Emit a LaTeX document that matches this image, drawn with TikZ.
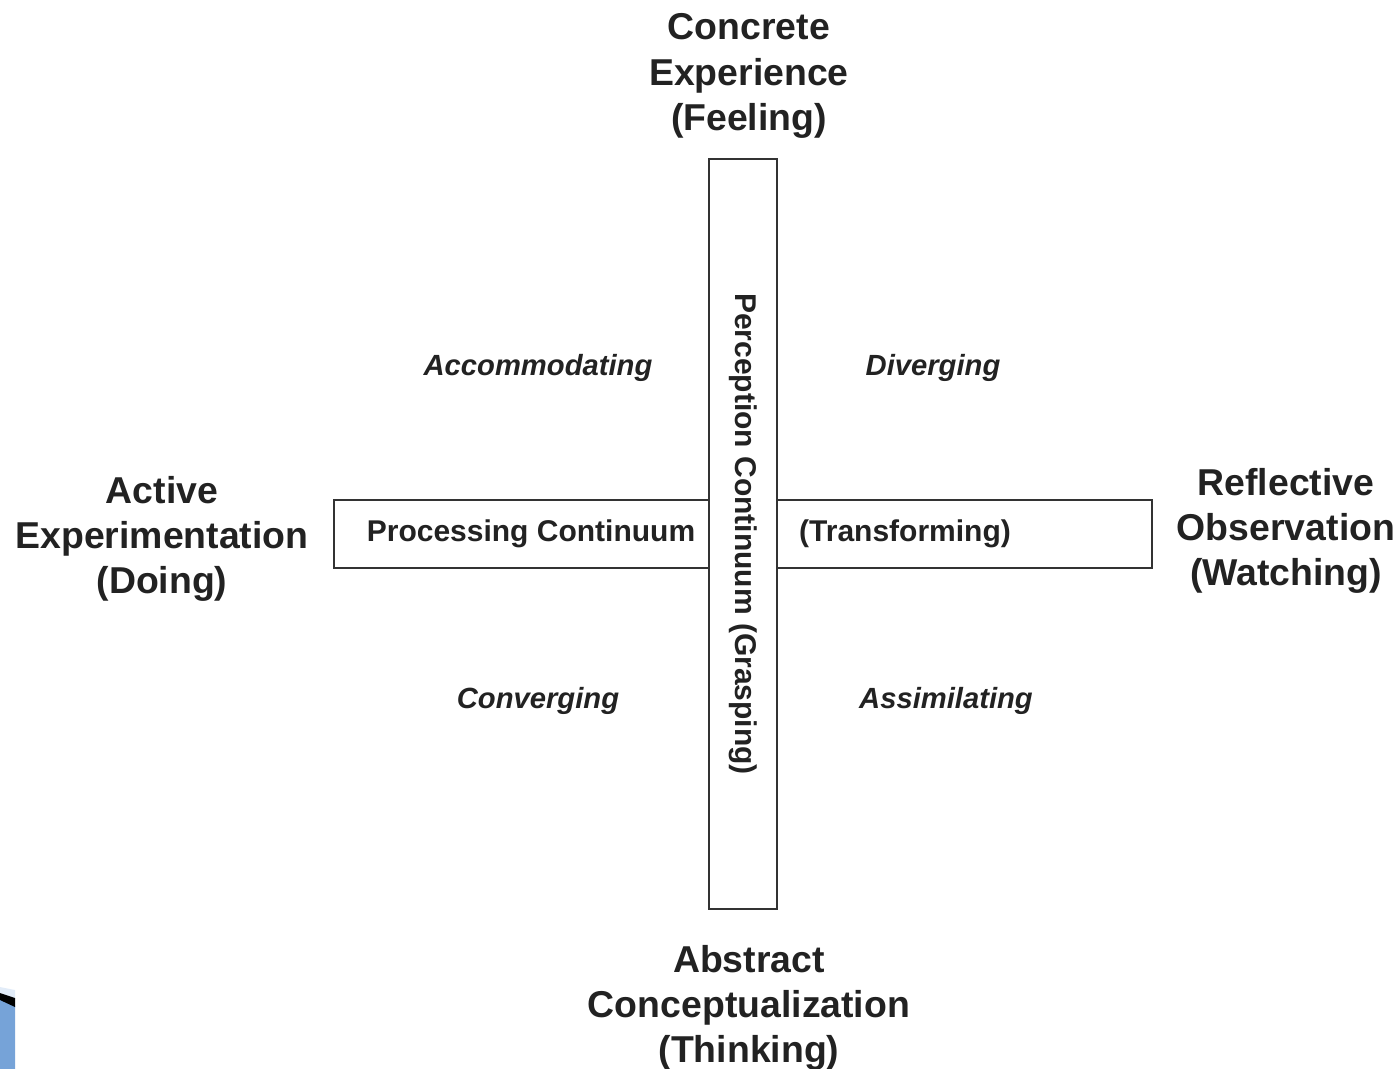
\documentclass[tikz,border=0pt]{standalone}
\usepackage{fontspec}
\setmainfont{Liberation Sans}
\usepackage{xcolor}
\usepackage{tikz}

\definecolor{encre}{HTML}{222222}
\definecolor{trait}{HTML}{333333}
\definecolor{diapo}{HTML}{76A3D8}
\definecolor{diapoclair}{HTML}{E2ECF8}

\begin{document}
\begin{tikzpicture}[x=0.5pt,y=-0.5pt,
   pole/.style={align=center,text=encre,font=\fontsize{18.7pt}{22.7pt}\selectfont\bfseries},
   quadrant/.style={text=encre,font=\fontsize{14.6pt}{17pt}\selectfont\bfseries\itshape},
   continuum/.style={draw=trait,line width=1.4pt,fill=white,inner sep=0pt,
      text=encre,font=\fontsize{15pt}{18pt}\selectfont\bfseries}]

  \useasboundingbox (0,0) rectangle (1399,1069);

  % slide corner
  \fill[diapoclair] (0,987) -- (15,990) -- (15,999) -- (0,993) -- cycle;
  \fill[diapo] (0,999) -- (15,1006) -- (15,1069) -- (0,1069) -- cycle;
  \fill[black] (0,993) -- (15,998) -- (15,1007) -- (0,1000) -- cycle;

  % the two continua
  \node[continuum,minimum width=409pt,minimum height=34pt] (traitement) at (743,534) {};
  \node[continuum,rotate=-90,minimum width=375pt,minimum height=34pt] (perception) at (743,534)
     {Perception Continuum (Grasping)};
  \node[text=encre,font=\fontsize{15pt}{18pt}\selectfont\bfseries] (proc) at (531,534) {Processing Continuum};
  \node[text=encre,font=\fontsize{15pt}{18pt}\selectfont\bfseries] (trans) at (905,534) {(Transforming)};

  % poles
  \node[pole] (ce) at (749,76) {Concrete\\Experience\\(Feeling)};
  \node[pole] (ac) at (749,1008) {Abstract\\Conceptualization\\(Thinking)};
  \node[pole] (ae) at (162,539) {Active\\Experimentation\\(Doing)};
  \node[pole] (ro) at (1286,531) {Reflective\\Observation\\(Watching)};

  % styles
  \node[quadrant] (acc) at (538,368) {Accommodating};
  \node[quadrant] (div) at (933,368) {Diverging};
  \node[quadrant] (conv) at (538,701) {Converging};
  \node[quadrant] (ass) at (946,701) {Assimilating};
\end{tikzpicture}
\end{document}
